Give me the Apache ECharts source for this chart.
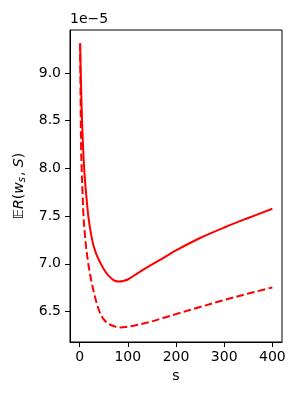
<!DOCTYPE html>
<html>
<head>
<meta charset="utf-8">
<script src="https://cdn.jsdelivr.net/npm/echarts@6/dist/echarts.min.js"></script>
<style>html,body{margin:0;padding:0;background:#fff}#c{width:300px;height:400px}</style>
</head>
<body>
<div id="c"></div>
<script>
// values in units of 1e-5
const solidS  = [1, 3, 5, 7, 9.4, 12, 15, 18, 22, 26, 30, 35, 40, 44, 50, 56, 62, 68, 74, 82, 90, 100, 120, 146, 175, 200, 250, 300, 350, 400];
const solidV  = [9.31, 8.86, 8.50, 8.24, 8.00, 7.82, 7.65, 7.50, 7.36, 7.25, 7.17, 7.095, 7.04, 7.00, 6.945, 6.90, 6.865, 6.838, 6.82, 6.815, 6.82, 6.835, 6.90, 6.98, 7.065, 7.14, 7.27, 7.38, 7.48, 7.577];
const dashedS = [1, 2, 3, 4.5, 6, 8, 11, 14, 18, 22, 26, 30, 35, 40, 45, 52, 60, 70, 84, 100, 120, 146, 175, 200, 250, 300, 350, 400];
const dashedV = [9.31, 8.70, 8.22, 7.95, 7.74, 7.50, 7.30, 7.15, 7.00, 6.88, 6.78, 6.69, 6.595, 6.515, 6.455, 6.405, 6.372, 6.347, 6.333, 6.34, 6.36, 6.39, 6.435, 6.472, 6.547, 6.62, 6.688, 6.752];
const xTicks = [0, 100, 200, 300, 400];
const yTicks = [6.5, 7.0, 7.5, 8.0, 8.5, 9.0];

const font = 'DejaVu Sans';
const chart = echarts.init(document.getElementById('c'), null, {renderer: 'canvas'});
const pair = (s, v) => s.map((x, i) => [x, v[i]]);
chart.setOption({
  animation: false,
  grid: {left: 70, right: 18, top: 30, bottom: 58, show: true, borderColor: '#000', borderWidth: 1, backgroundColor: 'transparent'},
  xAxis: {
    type: 'value', min: -20, max: 420,
    name: 's', nameLocation: 'middle', nameGap: 25,
    nameTextStyle: {fontFamily: font, fontSize: 14, color: '#000'},
    axisLine: {show: true, onZero: false, lineStyle: {color: '#000', width: 1}},
    axisTick: {show: true, length: 5, lineStyle: {color: '#000', width: 1}, customValues: xTicks},
    axisLabel: {fontFamily: font, fontSize: 14, color: '#000', margin: 8, customValues: xTicks},
    splitLine: {show: false}
  },
  yAxis: {
    type: 'value', min: 6.18, max: 9.45,
    name: '{a|𝔼}{i|R}{n|(}{i|w}{sub|s}{n|, }{i|S}{n|)}',
    nameLocation: 'middle', nameGap: 37, nameRotate: 90,
    nameTextStyle: {
      fontFamily: font, fontSize: 14, color: '#000',
      rich: {
        a: {fontFamily: font, fontSize: 14, color: '#000'},
        i: {fontFamily: font, fontSize: 14, fontStyle: 'italic', color: '#000'},
        n: {fontFamily: font, fontSize: 14, color: '#000'},
        sub: {fontFamily: font, fontSize: 10, fontStyle: 'italic', color: '#000', padding: [7, 1, 0, 0]}
      }
    },
    axisLine: {show: true, onZero: false, lineStyle: {color: '#000', width: 1}},
    axisTick: {show: true, length: 5, lineStyle: {color: '#000', width: 1}, customValues: yTicks},
    axisLabel: {fontFamily: font, fontSize: 14, color: '#000', margin: 9, customValues: yTicks,
      formatter: v => v.toFixed(1)},
    splitLine: {show: false}
  },
  graphic: [{type: 'text', left: 70, top: 12, style: {text: '1e\u22125', font: '14px "DejaVu Sans"', fill: '#000'}}],
  series: [
    {type: 'line', data: pair(solidS, solidV), showSymbol: false, smooth: 0.35,
     lineStyle: {color: '#ff0000', width: 2}},
    {type: 'line', data: pair(dashedS, dashedV), showSymbol: false, smooth: 0.35,
     lineStyle: {color: '#ff0000', width: 2, type: [7.7, 3.3]}}
  ]
});
</script>
</body>
</html>
